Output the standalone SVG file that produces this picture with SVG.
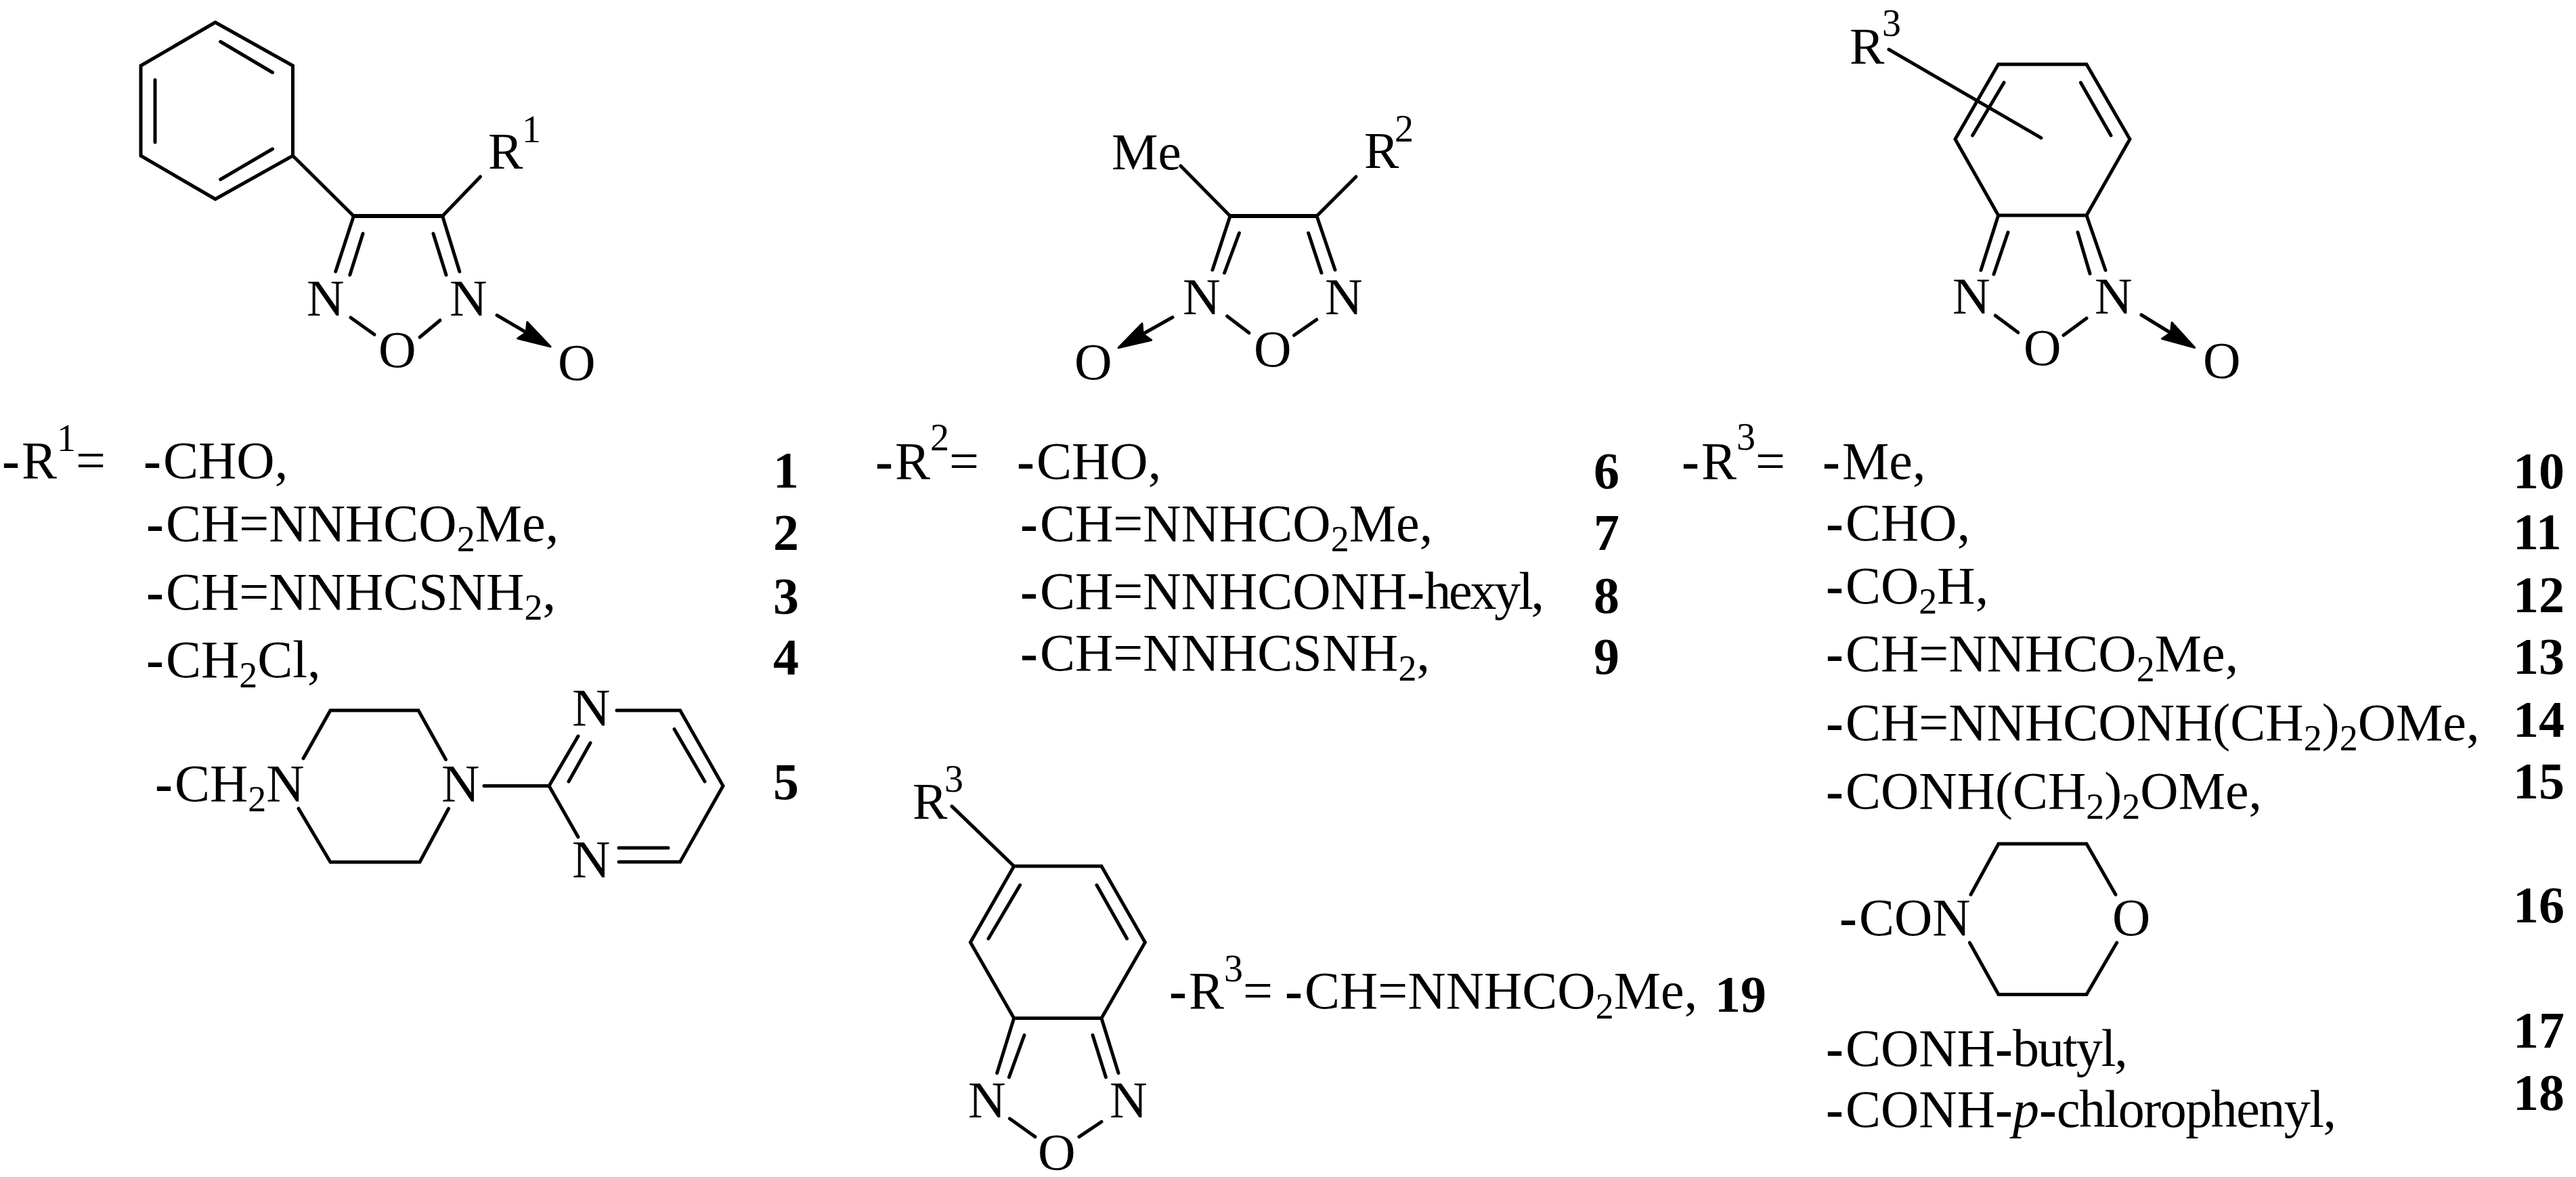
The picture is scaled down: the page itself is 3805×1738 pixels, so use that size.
<svg xmlns="http://www.w3.org/2000/svg" width="3805" height="1738" viewBox="0 0 3805 1738">
<style>
text{font-family:"Liberation Serif","Times New Roman",serif;font-size:78px;fill:#000;white-space:pre}
.a{font-size:77px}
.b{font-weight:bold;font-size:76px}
.h{font-weight:bold}
.s{font-size:54px}
.u{font-size:56px}
.i{font-style:italic}
.l1{letter-spacing:-3.2px}
.l2{letter-spacing:-2px}
.l3{letter-spacing:-1.5px}
#connectors line{stroke:#000;stroke-width:5;stroke-linecap:round}
#connectors polyline{fill:none;stroke:#000;stroke-width:5;stroke-linejoin:miter;stroke-linecap:round}
#connectors .t{stroke-width:6}
</style>
<defs>
<marker id="head" markerUnits="userSpaceOnUse" markerWidth="60" markerHeight="40" refX="26" refY="20" orient="auto">
<path d="M1.5,6 L49.5,20 L1.5,34 L8,20 Z" fill="#000" stroke="#000" stroke-width="3" stroke-linejoin="round"/>
</marker>
</defs>
<rect width="3805" height="1738" fill="#fff"/>
<g id="connectors">
<polyline points="318,33 432.5,97 432.5,230 318,294 208,230 208,97 318,33"/>
<line x1="325.6" y1="61.5" x2="402.5" y2="107"/><line x1="229" y1="118" x2="229" y2="210"/><line x1="325.6" y1="265" x2="402.5" y2="220"/>
<line x1="432.5" y1="230" x2="522.4" y2="319"/>
<line class="t" x1="522.4" y1="319" x2="653.6" y2="319"/>
<line x1="653.6" y1="319" x2="709.5" y2="261"/>
<line x1="522.4" y1="319" x2="495.7" y2="401"/><line x1="536" y1="345" x2="516.8" y2="406"/>
<line x1="653.6" y1="319" x2="678.8" y2="401"/><line x1="640" y1="345" x2="659" y2="406"/>
<line x1="518" y1="469" x2="553" y2="494"/><line x1="650" y1="473" x2="620" y2="498"/>
<line x1="734" y1="465.5" x2="792.8" y2="500" marker-end="url(#head)"/>
<polyline points="448,1120 488,1049 618,1049 658.5,1121.5"/>
<polyline points="441,1194 488,1273 620,1273 662.6,1194"/>
<line x1="715" y1="1160.5" x2="811" y2="1160.5"/>
<line x1="811" y1="1160.5" x2="854" y2="1087"/><line x1="872" y1="1097" x2="840" y2="1154"/>
<line x1="811" y1="1160.5" x2="854" y2="1236"/>
<polyline points="911,1049 1004.6,1049 1068,1160.5 1004.6,1272.7 914,1272.7"/>
<line x1="996" y1="1076.7" x2="1041" y2="1154"/>
<line x1="914" y1="1252" x2="987" y2="1252"/>
<line x1="1744" y1="245" x2="1817" y2="319"/>
<line class="t" x1="1817" y1="319" x2="1945" y2="319"/>
<line x1="1945" y1="319" x2="2003" y2="261"/>
<line x1="1817" y1="319" x2="1791" y2="398.5"/><line x1="1830.5" y1="344" x2="1808.6" y2="403"/>
<line x1="1945" y1="319" x2="1972" y2="398.5"/><line x1="1932.6" y1="344" x2="1952" y2="403"/>
<line x1="1812.7" y1="467" x2="1845" y2="491.5"/><line x1="1944.7" y1="472" x2="1911.5" y2="495"/>
<line x1="1732" y1="468.5" x2="1672.5" y2="502" marker-end="url(#head)"/>
<line x1="1406" y1="1190.6" x2="1497.7" y2="1279"/>
<polyline points="1497.7,1279 1627,1279 1691.4,1391.5 1627,1503.5 1497.7,1503.5 1433.4,1391.5 1497.7,1279"/>
<line x1="1506.6" y1="1307" x2="1460" y2="1386"/><line x1="1620" y1="1307" x2="1664.6" y2="1386"/>
<line x1="1497.7" y1="1503.5" x2="1472.7" y2="1584.5"/><line x1="1513" y1="1528.5" x2="1490.5" y2="1590.6"/>
<line x1="1627" y1="1503.5" x2="1652" y2="1584.5"/><line x1="1614" y1="1528.5" x2="1633.4" y2="1590.6"/>
<line x1="1491.4" y1="1651.8" x2="1529" y2="1678.6"/><line x1="1627" y1="1656.5" x2="1594" y2="1678.6"/>
<line x1="2790" y1="73" x2="3015" y2="203.6"/>
<polyline points="2951.7,95 3082,95 3146,205.5 3082,318 2951.7,318 2888,205.5 2951.7,95"/>
<line x1="2960" y1="122" x2="2913.6" y2="200"/><line x1="3073.4" y1="122" x2="3118" y2="200"/>
<line x1="2951.7" y1="318" x2="2926" y2="399"/><line x1="2966" y1="343" x2="2945" y2="405"/>
<line x1="3082" y1="318" x2="3110" y2="399"/><line x1="3069" y1="343" x2="3087" y2="404"/>
<line x1="2947.4" y1="466" x2="2981" y2="491"/><line x1="3082" y1="470" x2="3048" y2="495"/>
<line x1="3163" y1="465" x2="3221.7" y2="501" marker-end="url(#head)"/>
<polyline points="2911,1321 2952,1246 3082,1246 3125,1321"/>
<polyline points="2909.4,1392 2952,1468.5 3082,1468.5 3126.7,1392"/>
</g>
<g id="structure-1">
<text class="a" x="721" y="249">R</text><text class="u" x="771" y="210">1</text>
<text class="a" x="453" y="466">N</text><text class="a" x="664" y="466">N</text>
<text class="a" x="559" y="542">O</text><text class="a" x="824" y="561">O</text>
</g>
<g id="list-1">
<text x="6" y="706"><tspan class="h" dx="-3">-</tspan><tspan dx="3">R</tspan><tspan class="u" dy="-40">1</tspan><tspan dy="40">=</tspan></text>
<text x="215" y="706"><tspan class="h" dx="-3">-</tspan><tspan dx="3">CHO,</tspan></text>
<text x="219" y="799"><tspan class="h" dx="-3">-</tspan><tspan dx="3">CH=NNHCO</tspan><tspan class="s" dy="15">2</tspan><tspan dy="-15">Me,</tspan></text>
<text x="219" y="900"><tspan class="h" dx="-3">-</tspan><tspan dx="3">CH=NNHCSNH</tspan><tspan class="s" dy="15">2</tspan><tspan dy="-15">,</tspan></text>
<text x="219" y="1000"><tspan class="h" dx="-3">-</tspan><tspan dx="3">CH</tspan><tspan class="s" dy="15">2</tspan><tspan dy="-15">Cl,</tspan></text>
<text x="232" y="1183"><tspan class="h" dx="-3">-</tspan><tspan dx="3">CH</tspan><tspan class="s" dy="15">2</tspan><tspan dy="-15">N</tspan></text>
<text x="652" y="1183">N</text><text x="845" y="1071">N</text><text x="845" y="1295">N</text>
<text class="b" x="1142" y="720">1</text><text class="b" x="1142" y="812">2</text><text class="b" x="1142" y="906">3</text><text class="b" x="1142" y="996">4</text><text class="b" x="1142" y="1180">5</text>
</g>
<g id="structure-2">
<text class="a" x="1642" y="250">Me</text>
<text class="a" x="2015" y="248">R</text><text class="u" x="2060" y="209">2</text>
<text class="a" x="1747" y="464">N</text><text class="a" x="1957" y="464">N</text>
<text class="a" x="1852" y="541">O</text><text class="a" x="1587" y="560">O</text>
</g>
<g id="list-2">
<text x="1296" y="707"><tspan class="h" dx="-3">-</tspan><tspan dx="3">R</tspan><tspan class="u" dy="-42">2</tspan><tspan dy="42">=</tspan></text>
<text x="1505" y="707"><tspan class="h" dx="-3">-</tspan><tspan dx="3">CHO,</tspan></text>
<text x="1510" y="799"><tspan class="h" dx="-3">-</tspan><tspan dx="3">CH=NNHCO</tspan><tspan class="s" dy="15">2</tspan><tspan dy="-15">Me,</tspan></text>
<text x="1510" y="899"><tspan class="h" dx="-3">-</tspan><tspan dx="3">CH=NNHCONH</tspan><tspan class="h">-</tspan><tspan class="l1">hexyl,</tspan></text>
<text x="1510" y="990"><tspan class="h" dx="-3">-</tspan><tspan dx="3">CH=NNHCSNH</tspan><tspan class="s" dy="15">2</tspan><tspan dy="-15">,</tspan></text>
<text class="b" x="2354" y="721">6</text><text class="b" x="2354" y="812">7</text><text class="b" x="2354" y="905">8</text><text class="b" x="2354" y="995">9</text>
</g>
<g id="structure-19">
<text class="a" x="1348" y="1209">R</text><text class="u" x="1395" y="1169">3</text>
<text class="a" x="1430" y="1650">N</text><text class="a" x="1639" y="1650">N</text>
<text class="a" x="1533" y="1727">O</text>
<text x="1730" y="1489"><tspan class="h" dx="-3">-</tspan><tspan dx="3">R</tspan><tspan class="u" dy="-40">3</tspan><tspan dy="40">=</tspan></text>
<text x="1901" y="1489"><tspan class="h" dx="-3">-</tspan><tspan dx="3">CH=NNHCO</tspan><tspan class="s" dy="15">2</tspan><tspan dy="-15">Me,</tspan></text>
<text class="b" x="2533" y="1494">19</text>
</g>
<g id="structure-3">
<text class="a" x="2732" y="94">R</text><text class="u" x="2780" y="53">3</text>
<text class="a" x="2884" y="463">N</text><text class="a" x="3094" y="463">N</text>
<text class="a" x="2989" y="539">O</text><text class="a" x="3254" y="558">O</text>
</g>
<g id="list-3">
<text x="2487" y="707"><tspan class="h" dx="-3">-</tspan><tspan dx="3">R</tspan><tspan class="u" dy="-43">3</tspan><tspan dy="43">=</tspan></text>
<text x="2695" y="707"><tspan class="h" dx="-3">-</tspan><tspan dx="3">Me,</tspan></text>
<text x="2700" y="798"><tspan class="h" dx="-3">-</tspan><tspan dx="3">CHO,</tspan></text>
<text x="2700" y="891"><tspan class="h" dx="-3">-</tspan><tspan dx="3">CO</tspan><tspan class="s" dy="15">2</tspan><tspan dy="-15">H,</tspan></text>
<text x="2700" y="991"><tspan class="h" dx="-3">-</tspan><tspan dx="3">CH=NNHCO</tspan><tspan class="s" dy="15">2</tspan><tspan dy="-15">Me,</tspan></text>
<text x="2700" y="1093"><tspan class="h" dx="-3">-</tspan><tspan dx="3">CH=NNHCONH(CH</tspan><tspan class="s" dy="15">2</tspan><tspan dy="-15">)</tspan><tspan class="s" dy="15">2</tspan><tspan dy="-15">OMe,</tspan></text>
<text x="2700" y="1194"><tspan class="h" dx="-3">-</tspan><tspan dx="3">CONH(CH</tspan><tspan class="s" dy="15">2</tspan><tspan dy="-15">)</tspan><tspan class="s" dy="15">2</tspan><tspan dy="-15">OMe,</tspan></text>
<text x="2720" y="1381"><tspan class="h" dx="-3">-</tspan><tspan dx="3">CON</tspan></text><text x="3120" y="1381">O</text>
<text x="2700" y="1574"><tspan class="h" dx="-3">-</tspan><tspan dx="3">CONH</tspan><tspan class="h">-</tspan><tspan class="l2">butyl,</tspan></text>
<text x="2700" y="1664"><tspan class="h" dx="-3">-</tspan><tspan dx="3">CONH</tspan><tspan class="h">-</tspan><tspan class="i">p</tspan><tspan class="h">-</tspan><tspan class="l3">chlorophenyl,</tspan></text>
<text class="b" x="3712" y="721">10</text><text class="b" x="3712" y="811">11</text><text class="b" x="3712" y="904">12</text><text class="b" x="3712" y="995">13</text><text class="b" x="3712" y="1088">14</text><text class="b" x="3712" y="1179">15</text><text class="b" x="3712" y="1362">16</text><text class="b" x="3712" y="1547">17</text><text class="b" x="3712" y="1639">18</text>
</g>
</svg>
